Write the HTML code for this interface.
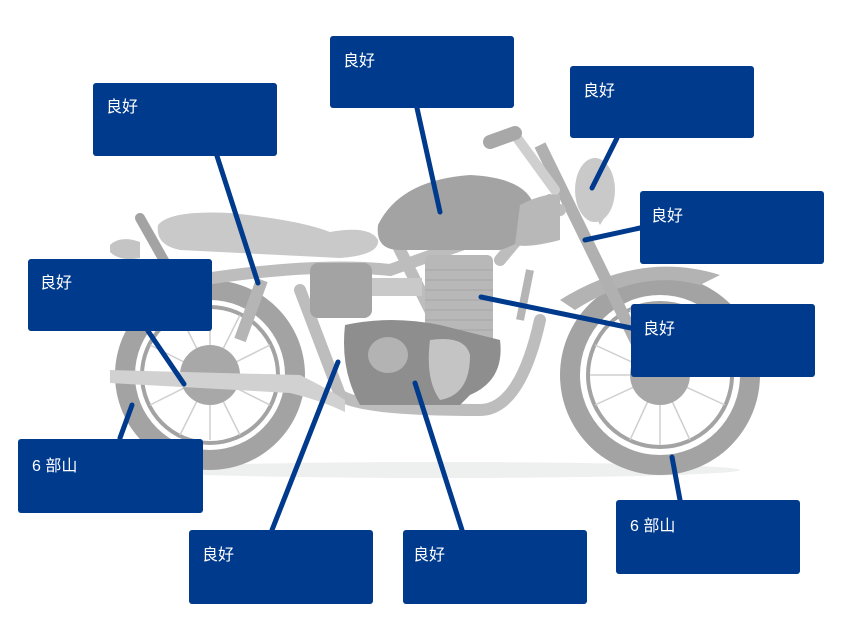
<!DOCTYPE html>
<html><head><meta charset="utf-8"><style>
body{margin:0;background:#fff;}
svg{display:block}
text{font-family:"Liberation Sans","Noto Sans CJK SC",sans-serif;font-size:16px;fill:#fff}
</style></head><body>
<svg width="845" height="635" viewBox="0 0 845 635" xmlns="http://www.w3.org/2000/svg">
<!-- shadow -->
<ellipse cx="440" cy="470" rx="300" ry="8" fill="#eef0ef"/>
<!-- rear wheel -->
<circle cx="210" cy="375" r="95" fill="#a3a3a3"/>
<circle cx="210" cy="375" r="75" fill="#fff"/>
<circle cx="210" cy="375" r="70" fill="#a3a3a3"/>
<circle cx="210" cy="375" r="66" fill="#fff"/>
<g stroke="#cfcfcf" stroke-width="1.5">
<line x1="150" y1="345" x2="270" y2="405"/><line x1="150" y1="405" x2="270" y2="345"/><line x1="180" y1="315" x2="240" y2="435"/><line x1="240" y1="315" x2="180" y2="435"/><line x1="145" y1="375" x2="275" y2="375"/><line x1="210" y1="310" x2="210" y2="440"/>
</g>
<circle cx="210" cy="375" r="30" fill="#a8a8a8"/>
<!-- front wheel -->
<circle cx="660" cy="375" r="100" fill="#a3a3a3"/>
<circle cx="660" cy="375" r="80" fill="#fff"/>
<circle cx="660" cy="375" r="74" fill="#a3a3a3"/>
<circle cx="660" cy="375" r="70" fill="#fff"/>
<g stroke="#cfcfcf" stroke-width="1.5">
<line x1="595" y1="345" x2="725" y2="405"/><line x1="595" y1="405" x2="725" y2="345"/><line x1="630" y1="310" x2="690" y2="440"/><line x1="690" y1="310" x2="630" y2="440"/><line x1="590" y1="375" x2="730" y2="375"/><line x1="660" y1="305" x2="660" y2="445"/>
</g>
<circle cx="660" cy="375" r="30" fill="#a8a8a8"/>
<!-- front fender -->
<path d="M560 300 Q640 250 720 275 L700 285 Q640 268 575 310 Z" fill="#b3b3b3"/>
<!-- fork -->
<line x1="540" y1="145" x2="650" y2="370" stroke="#b0b0b0" stroke-width="12"/>
<line x1="515" y1="135" x2="555" y2="190" stroke="#cfcfcf" stroke-width="10" stroke-linecap="round"/>
<line x1="490" y1="142" x2="515" y2="133" stroke="#a8a8a8" stroke-width="14" stroke-linecap="round"/>
<!-- headlight -->
<path d="M600 160 Q625 185 600 225 Q580 190 600 160Z" fill="#c8c8c8"/>
<ellipse cx="595" cy="190" rx="20" ry="32" fill="#c9c9c9"/>
<!-- frame -->
<g stroke="#bdbdbd" stroke-width="12" fill="none" stroke-linecap="round">
<path d="M140 290 Q300 260 390 270 L560 210"/>
<path d="M300 290 L340 395 Q360 410 480 410 Q520 410 540 320"/>
<line x1="395" y1="240" x2="440" y2="330"/>
<line x1="500" y1="260" x2="550" y2="200"/>
</g>
<line x1="140" y1="218" x2="175" y2="280" stroke="#a3a3a3" stroke-width="10" stroke-linecap="round"/>
<!-- tail light -->
<path d="M110 245 Q120 235 140 242 L140 258 Q120 262 110 252Z" fill="#c4c4c4"/>
<!-- seat -->
<path d="M158 225 Q170 210 230 213 Q300 220 330 232 Q370 225 378 240 Q380 255 340 258 L180 250 Q155 245 158 225Z" fill="#c9c9c9"/>
<!-- tank -->
<path d="M378 225 Q400 180 470 175 Q530 178 535 210 Q535 240 500 250 L400 250 Q375 250 378 225Z" fill="#a3a3a3"/>
<path d="M520 205 Q545 192 560 195 L560 240 Q530 248 515 245Z" fill="#b8b8b8"/>
<!-- side box -->
<rect x="310" y="263" width="62" height="55" rx="8" fill="#a3a3a3"/>
<rect x="372" y="278" width="50" height="18" fill="#c9c9c9"/>
<!-- engine -->
<rect x="425" y="255" width="68" height="95" rx="6" fill="#b8b8b8"/>
<g stroke="#a6a6a6" stroke-width="1"><line x1="425" y1="270" x2="493" y2="270"/><line x1="425" y1="280" x2="493" y2="280"/><line x1="425" y1="290" x2="493" y2="290"/><line x1="425" y1="300" x2="493" y2="300"/><line x1="425" y1="310" x2="493" y2="310"/><line x1="425" y1="320" x2="493" y2="320"/><line x1="425" y1="330" x2="493" y2="330"/></g>
<path d="M345 325 Q390 315 440 325 L500 340 Q505 380 470 395 L460 405 L360 405 Q340 370 345 325Z" fill="#8e8e8e"/>
<ellipse cx="388" cy="355" rx="20" ry="18" fill="#b3b3b3"/>
<path d="M430 340 Q465 335 470 355 Q470 395 440 400 Q425 380 430 340Z" fill="#c4c4c4"/>
<!-- rear shock -->
<line x1="240" y1="340" x2="262" y2="280" stroke="#b5b5b5" stroke-width="12"/>
<line x1="520" y1="320" x2="530" y2="270" stroke="#b5b5b5" stroke-width="8"/>
<!-- exhaust -->
<path d="M110 370 L300 375 Q330 390 345 400 L345 412 Q320 400 290 393 L110 383Z" fill="#d1d1d1"/>
<!-- connector lines -->
<g stroke="#003a8c" stroke-width="5" stroke-linecap="round">
<line x1="217" y1="156" x2="258" y2="283"/>
<line x1="417" y1="108" x2="440" y2="212"/>
<line x1="617" y1="138" x2="592" y2="188"/>
<line x1="640" y1="228" x2="585" y2="240"/>
<line x1="148" y1="331" x2="184" y2="384"/>
<line x1="631" y1="328" x2="481" y2="297"/>
<line x1="120" y1="438" x2="132" y2="405"/>
<line x1="680" y1="500" x2="672" y2="457"/>
<line x1="272" y1="530" x2="338" y2="362"/>
<line x1="462" y1="530" x2="415" y2="383"/>
</g>
<!-- boxes -->
<g fill="#003a8c">
<rect x="93" y="83" width="184" height="73" rx="3"/>
<rect x="330" y="36" width="184" height="72" rx="3"/>
<rect x="570" y="66" width="184" height="72" rx="3"/>
<rect x="640" y="191" width="184" height="73" rx="3"/>
<rect x="28" y="259" width="184" height="72" rx="3"/>
<rect x="631" y="304" width="184" height="73" rx="3"/>
<rect x="18" y="439" width="185" height="74" rx="3"/>
<rect x="616" y="500" width="184" height="74" rx="3"/>
<rect x="189" y="530" width="184" height="74" rx="3"/>
<rect x="403" y="530" width="184" height="74" rx="3"/>
</g>
<text x="106" y="112">良好</text>
<text x="343" y="66">良好</text>
<text x="583" y="96">良好</text>
<text x="651" y="221">良好</text>
<text x="40" y="288">良好</text>
<text x="643" y="334">良好</text>
<text x="32" y="471">6 部山</text>
<text x="630" y="531">6 部山</text>
<text x="202" y="560">良好</text>
<text x="413" y="560">良好</text>
</svg>
</body></html>
